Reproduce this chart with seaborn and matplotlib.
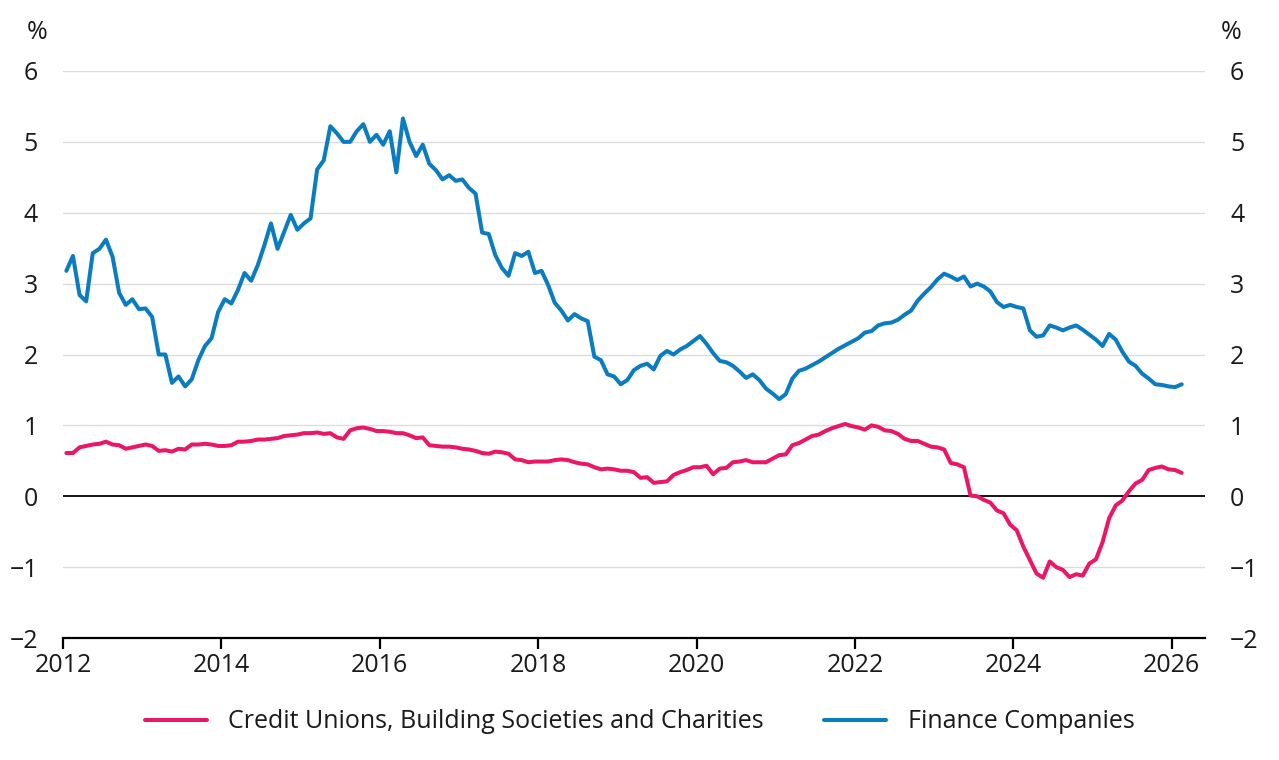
#!/usr/bin/env python3
# -*- coding: utf-8 -*-
"""Growth rates for lending by non-bank lenders, monthly, 2012-2026."""

import numpy as np
import pandas as pd
import seaborn as sns
import matplotlib.pyplot as plt

# %% Data (monthly from Jan 2012)

start_year = 2012

credit_unions = [
    0.61, 0.61, 0.69, 0.71, 0.73, 0.74, 0.77, 0.73, 0.72, 0.67, 0.69, 0.71,
    0.73, 0.71, 0.64, 0.65, 0.63, 0.67, 0.66, 0.73, 0.73, 0.74, 0.73, 0.71,
    0.71, 0.72, 0.77, 0.77, 0.78, 0.80, 0.80, 0.81, 0.82, 0.85, 0.86, 0.87,
    0.89, 0.89, 0.90, 0.88, 0.89, 0.83, 0.81, 0.93, 0.96, 0.97, 0.95, 0.92,
    0.92, 0.91, 0.89, 0.89, 0.86, 0.82, 0.83, 0.72, 0.71, 0.70, 0.70, 0.69,
    0.67, 0.66, 0.64, 0.61, 0.60, 0.63, 0.62, 0.60, 0.52, 0.51, 0.48, 0.49,
    0.49, 0.49, 0.51, 0.52, 0.51, 0.48, 0.46, 0.45, 0.41, 0.38, 0.39, 0.38,
    0.36, 0.36, 0.34, 0.26, 0.27, 0.19, 0.20, 0.21, 0.30, 0.34, 0.37, 0.41,
    0.41, 0.43, 0.31, 0.39, 0.40, 0.48, 0.49, 0.51, 0.48, 0.48, 0.48, 0.53,
    0.58, 0.59, 0.72, 0.75, 0.80, 0.85, 0.87, 0.92, 0.96, 0.99, 1.02, 0.99,
    0.97, 0.94, 1.00, 0.98, 0.93, 0.92, 0.88, 0.81, 0.78, 0.78, 0.74, 0.70,
    0.69, 0.66, 0.47, 0.45, 0.41, 0.01, 0.00, -0.05, -0.09, -0.20, -0.24, -0.40,
    -0.48, -0.71, -0.90, -1.09, -1.15, -0.92, -1.00, -1.04, -1.14, -1.10, -1.12, -0.95,
    -0.89, -0.65, -0.31, -0.13, -0.06, 0.07, 0.18, 0.23, 0.37, 0.40, 0.42, 0.38,
    0.37, 0.33]

finance_companies = [
    3.18, 3.39, 2.84, 2.75, 3.43, 3.49, 3.62, 3.38, 2.87, 2.70, 2.78, 2.64,
    2.65, 2.53, 2.00, 2.00, 1.60, 1.69, 1.55, 1.65, 1.92, 2.12, 2.23, 2.60,
    2.78, 2.72, 2.91, 3.15, 3.04, 3.26, 3.54, 3.85, 3.49, 3.73, 3.97, 3.76,
    3.85, 3.92, 4.61, 4.74, 5.22, 5.12, 5.00, 5.00, 5.15, 5.25, 5.00, 5.10,
    4.96, 5.15, 4.57, 5.33, 5.00, 4.80, 4.96, 4.69, 4.60, 4.47, 4.53, 4.45,
    4.47, 4.35, 4.27, 3.72, 3.70, 3.40, 3.22, 3.11, 3.43, 3.39, 3.45, 3.15,
    3.18, 2.98, 2.73, 2.62, 2.48, 2.57, 2.51, 2.47, 1.97, 1.92, 1.72, 1.69,
    1.58, 1.64, 1.78, 1.84, 1.87, 1.79, 1.98, 2.05, 2.00, 2.07, 2.12, 2.19,
    2.26, 2.15, 2.02, 1.91, 1.89, 1.84, 1.76, 1.67, 1.72, 1.64, 1.52, 1.45,
    1.37, 1.44, 1.66, 1.77, 1.80, 1.85, 1.90, 1.96, 2.02, 2.08, 2.13, 2.18,
    2.23, 2.31, 2.33, 2.41, 2.44, 2.45, 2.49, 2.56, 2.62, 2.76, 2.86, 2.95,
    3.06, 3.14, 3.10, 3.05, 3.10, 2.96, 3.00, 2.96, 2.89, 2.74, 2.67, 2.70,
    2.67, 2.65, 2.34, 2.25, 2.27, 2.41, 2.38, 2.34, 2.38, 2.41, 2.35, 2.28,
    2.21, 2.12, 2.29, 2.21, 2.04, 1.90, 1.84, 1.73, 1.66, 1.58, 1.57, 1.55,
    1.54, 1.58]

lst_names = ['Credit Unions, Building Societies and Charities',
             'Finance Companies']
lst_colors = ['#EB1766', '#0A7CC2']

x_ticks = [2012, 2014, 2016, 2018, 2020, 2022, 2024, 2026]
y_ticks = [-2, -1, 0, 1, 2, 3, 4, 5, 6]

# %% Build data frame (each month plotted at its mid point)

ary_time = start_year + (np.arange(len(credit_unions)) + 0.5) / 12.0
df = pd.concat([
    pd.DataFrame({'time': ary_time, 'value': credit_unions,
                  'series': lst_names[0]}),
    pd.DataFrame({'time': ary_time, 'value': finance_companies,
                  'series': lst_names[1]})], ignore_index=True)

# %% Plot

sns.set_theme(style='white')
plt.rcParams['font.family'] = ['Open Sans', 'DejaVu Sans']
var_font = 18

fig = plt.figure(figsize=(12.79, 7.6), dpi=100)
ax = fig.add_axes([0.0493, 0.1605, 0.8929, 0.7461])

for y in y_ticks:
    if y != 0:
        ax.axhline(y, color='#dcdcdc', linewidth=1.0, zorder=0)
ax.axhline(0, color='black', linewidth=1.3, zorder=1)

sns.lineplot(data=df, x='time', y='value', hue='series', palette=lst_colors,
             linewidth=2.9, ax=ax, legend=False, zorder=3)

ax.set_xlim(2012, 2026.42)
ax.set_ylim(-2, 6)
ax.set_xticks(x_ticks)
ax.set_yticks(y_ticks)
ax.set_xlabel('')
ax.set_ylabel('')

for side in ['top', 'left', 'right']:
    ax.spines[side].set_visible(False)
ax.spines['bottom'].set_color('black')
ax.spines['bottom'].set_linewidth(1.6)

ax.tick_params(axis='x', bottom=True, direction='out', length=8, width=1.6,
               color='black', labelsize=var_font, pad=3, labelcolor='#1a1a1a')
ax.tick_params(axis='y', left=False, right=False, labelleft=True,
               labelright=True, labelsize=var_font, pad=12,
               labelcolor='#1a1a1a')

ax.text(-0.014, 1.045, '%', transform=ax.transAxes, ha='right', va='bottom',
        fontsize=var_font, color='#1a1a1a')
ax.text(1.014, 1.045, '%', transform=ax.transAxes, ha='left', va='bottom',
        fontsize=var_font, color='#1a1a1a')

handles = [plt.Line2D([], [], color=c, linewidth=2.9) for c in lst_colors]
fig.legend(handles, lst_names, loc='center', bbox_to_anchor=(0.5, 0.05),
           ncol=2, frameon=False, fontsize=var_font, handlelength=2.5,
           handletextpad=0.85, columnspacing=2.4, labelcolor='#1a1a1a')

fig.savefig('out.png', dpi=100)
